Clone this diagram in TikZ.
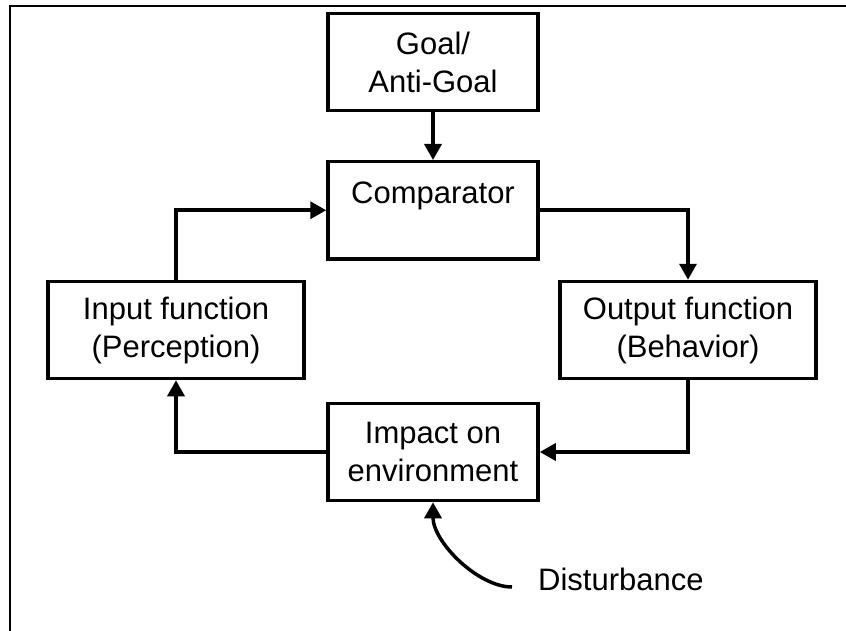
\documentclass[tikz,border=0pt]{standalone}
\usepackage{fontspec}
\setmainfont{Liberation Sans}
\usetikzlibrary{arrows.meta}
\begin{document}
\begin{tikzpicture}[x=1pt,y=-1pt,
  box/.style={draw,line width=3.5pt,minimum width=210pt,minimum height=97pt,
    inner sep=0pt,align=center,font=\fontsize{31}{38}\selectfont},
  widebox/.style={box,minimum width=256pt},
  flow/.style={line width=3.5pt,-{Triangle[length=16pt,width=17pt]}},
  lbl/.style={inner sep=0pt,font=\fontsize{31}{38}\selectfont}]
\useasboundingbox (0,0) rectangle (846,631);
% frame
\draw[line width=2.5pt] (10,631) -- (10,6) -- (846,6);
% blocks
\node[box] (goal) at (433,62) {Goal/\\Anti-Goal};
\node[box,anchor=north,text height=42pt,text depth=55pt] (comp) at (433,160) {Comparator};
\node[widebox] (input) at (176,330) {Input function\\(Perception)};
\node[widebox] (output) at (688,330) {Output function\\(Behavior)};
\node[box] (impact) at (433,452) {Impact on\\environment};
\node[lbl,anchor=base west] (dist) at (538,590) {Disturbance};
\coordinate (dstart) at (512,587);
% connectors
\draw[flow] (goal) -- (comp);
\draw[flow] (input.north) |- (comp.west);
\draw[flow] (comp.east) -| (output.north);
\draw[flow] (output.south) |- (impact.east);
\draw[flow] (impact.west) -| (input.south);
\draw[flow] (dstart) .. controls (478,587) and (433,542) .. (impact.south);
\end{tikzpicture}
\end{document}
